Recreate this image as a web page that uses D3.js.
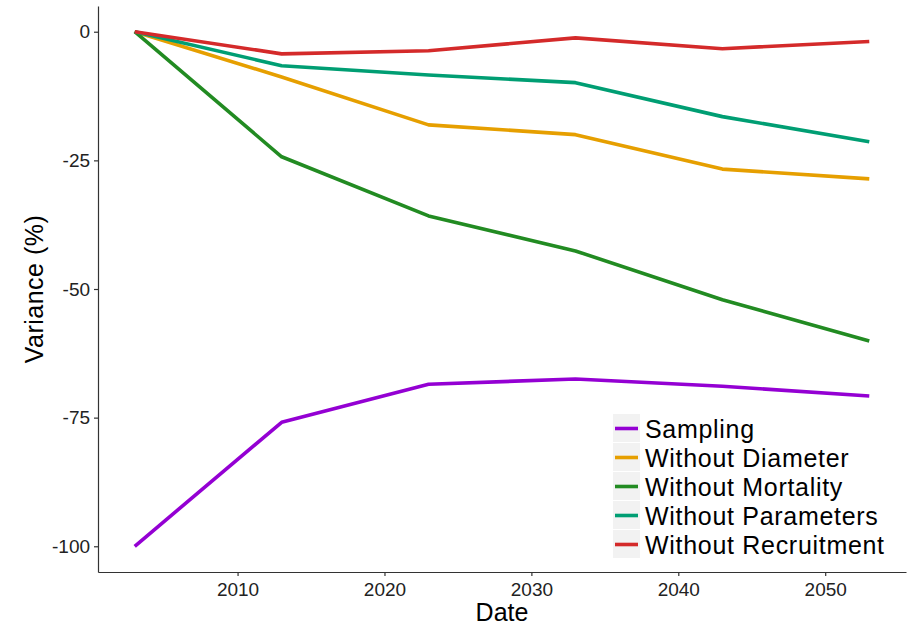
<!DOCTYPE html>
<html>
<head>
<meta charset="utf-8">
<script src="https://cdn.jsdelivr.net/npm/d3@7"></script>
<style>
  body { margin: 0; background: #fff; }
  svg text { font-family: "Liberation Sans", Arial, sans-serif; }
</style>
</head>
<body>
<svg id="chart" width="910" height="625"></svg>
<script>
var years = [2003, 2013, 2023, 2033, 2043, 2053];
var series_names = ["Sampling", "Without Diameter", "Without Mortality", "Without Parameters", "Without Recruitment"];
var sampling = [-100, -75.9, -68.5, -67.5, -68.9, -70.8];
var without_diameter = [0, -8.8, -18.1, -20.0, -26.7, -28.6];
var without_mortality = [0, -24.3, -35.8, -42.6, -52.1, -60.1];
var without_parameters = [0, -6.6, -8.4, -9.9, -16.5, -21.4];
var without_recruitment = [0, -4.3, -3.7, -1.2, -3.3, -1.9];
var x_ticks = [2010, 2020, 2030, 2040, 2050];
var y_ticks = [0, -25, -50, -75, -100];

var colours = ["#9400d3", "#e69f00", "#228b22", "#009e73", "#d42a2a"];
var all_values = [sampling, without_diameter, without_mortality, without_parameters, without_recruitment];

var svg = d3.select("#chart");
var margins = {left: 98, right: 4, top: 6, bottom: 53};
var width = 910, height = 625;

// ggplot style 5% expansion
var x = d3.scaleLinear().domain([2000.5, 2055.5]).range([margins.left, width - margins.right]);
var y = d3.scaleLinear().domain([-105, 5]).range([height - margins.bottom, margins.top]);

var line = d3.line().x(d => x(d[0])).y(d => y(d[1]));

var lines_g = svg.append("g");
all_values.forEach(function(vals, i) {
    lines_g.append("path")
        .datum(years.map((yr, j) => [yr, vals[j]]))
        .attr("d", line)
        .attr("fill", "none")
        .attr("stroke", colours[i])
        .attr("stroke-width", 3.6)
        .attr("stroke-linejoin", "round");
});

//axes
var x_axis = svg.append("g")
    .attr("transform", "translate(0," + (height - margins.bottom) + ")")
    .call(d3.axisBottom(x).tickValues(x_ticks).tickFormat(d3.format("d")).tickSize(4).tickSizeOuter(0));

var y_axis = svg.append("g")
    .attr("transform", "translate(" + margins.left + ",0)")
    .call(d3.axisLeft(y).tickValues(y_ticks).tickFormat(d => d).tickSize(4).tickSizeOuter(0));

[x_axis, y_axis].forEach(function(ax) {
    ax.select(".domain").attr("stroke", "#333").attr("stroke-width", 1.2);
    ax.selectAll(".tick line").attr("stroke", "#333").attr("stroke-width", 1.2);
    ax.selectAll(".tick text").attr("fill", "#222").attr("font-size", 19)
        .attr("font-family", "Liberation Sans, Arial, sans-serif");
});
x_axis.selectAll(".tick text").attr("dy", "0.9em");
y_axis.selectAll(".tick text").attr("dx", "-0.05em");

svg.append("text")
    .attr("x", (margins.left + width - margins.right) / 2)
    .attr("y", 621)
    .attr("text-anchor", "middle")
    .attr("font-size", 25)
    .attr("fill", "#000")
    .text("Date");

svg.append("text")
    .attr("transform", "translate(43," + ((margins.top + height - margins.bottom) / 2) + ") rotate(-90)")
    .attr("text-anchor", "middle")
    .attr("font-size", 25)
    .attr("letter-spacing", 0.5)
    .attr("fill", "#000")
    .text("Variance (%)");

//legend
var legend = svg.append("g").attr("transform", "translate(613,414)");
var row_h = 29;
series_names.forEach(function(name, i) {
    var g = legend.append("g").attr("transform", "translate(0," + (i * row_h) + ")");
    g.append("rect").attr("x", 0).attr("y", 0).attr("width", 27).attr("height", row_h - 1).attr("fill", "#f2f2f2");
    g.append("line").attr("x1", 2).attr("x2", 25).attr("y1", row_h / 2).attr("y2", row_h / 2)
        .attr("stroke", colours[i]).attr("stroke-width", 3.6);
    g.append("text").attr("x", 32).attr("y", row_h / 2).attr("dy", "0.36em")
        .attr("font-size", 25).attr("letter-spacing", 0.7).attr("fill", "#000").text(name);
});
</script>
</body>
</html>
